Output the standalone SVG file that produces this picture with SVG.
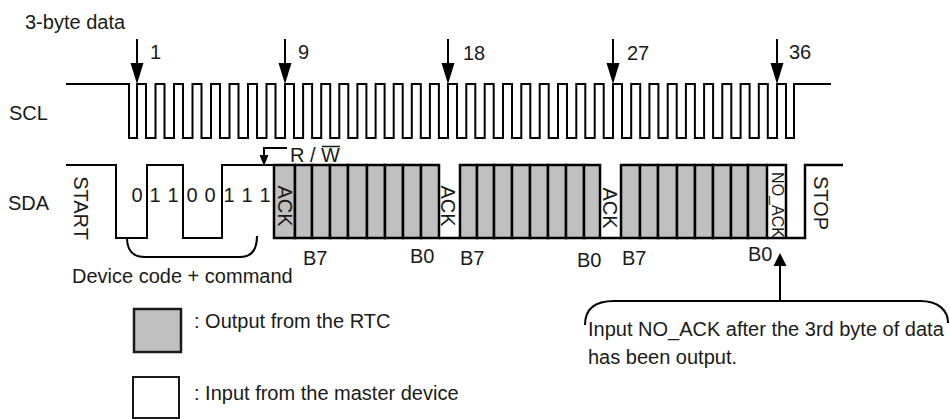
<svg xmlns="http://www.w3.org/2000/svg" width="950" height="419" viewBox="0 0 950 419">
<style>
text{font-family:"Liberation Sans",Arial,sans-serif;font-size:20px;fill:#1a1a1a}
.w{fill:none;stroke:#000;stroke-width:2;stroke-linejoin:miter}
.c{fill:#c0c0c0;stroke:#000;stroke-width:2.5}
.ln{fill:none;stroke:#000;stroke-width:2}
.ah{fill:#000}
.m{text-anchor:middle}
</style>
<rect width="950" height="419" fill="#fff"/>
<g id="labels">
<text x="25" y="29">3-byte data</text>
<text x="9" y="120">SCL</text>
<text x="8" y="210">SDA</text>
<text x="150" y="59">1</text>
<text x="298" y="59">9</text>
<text x="463" y="60">18</text>
<text x="627" y="60">27</text>
<text x="789" y="59">36</text>
</g>
<g id="scl">
<path class="w" d="M66 84 H129 V138 H137 V84 H146 V138 H155.5 V84 H164.5 V138 H174 V84 H183 V138 H192.5 V84 H201.5 V138 H211 V84 H220 V138 H229.5 V84 H238.5 V138 H248 V84 H257 V138 H266.5 V84 H275.5 V138 H285 V84 H294 V138 H303.1 V84 H312.1 V138 H321.2 V84 H330.2 V138 H339.3 V84 H348.3 V138 H357.4 V84 H366.4 V138 H375.6 V84 H384.6 V138 H393.7 V84 H402.7 V138 H411.8 V84 H420.8 V138 H429.9 V84 H438.9 V138 H448 V84 H457 V138 H466.3 V84 H475.3 V138 H484.7 V84 H493.7 V138 H503 V84 H512 V138 H521.3 V84 H530.3 V138 H539.7 V84 H548.7 V138 H558 V84 H567 V138 H576.3 V84 H585.3 V138 H594.7 V84 H603.7 V138 H613 V84 H622 V138 H631.2 V84 H640.2 V138 H649.4 V84 H658.4 V138 H667.7 V84 H676.7 V138 H685.9 V84 H694.9 V138 H704.1 V84 H713.1 V138 H722.3 V84 H731.3 V138 H740.6 V84 H749.6 V138 H758.8 V84 H767.8 V138 H777 V84 H786 V138 H794 V84 H831"/>
</g>
<g id="sda">
<path class="w" d="M66 165 H116 V238 H147 V165 H183 V238 H222 V165 H274"/>
<g id="byte1">
<rect class="c" x="274" y="165" width="21" height="73"/>
<rect class="c" x="295" y="165" width="17" height="73"/>
<rect class="c" x="312" y="165" width="18" height="73"/>
<rect class="c" x="330" y="165" width="18" height="73"/>
<rect class="c" x="348" y="165" width="19" height="73"/>
<rect class="c" x="367" y="165" width="18" height="73"/>
<rect class="c" x="385" y="165" width="18" height="73"/>
<rect class="c" x="403" y="165" width="18" height="73"/>
<rect class="c" x="421" y="165" width="18" height="73"/>
</g>
<g id="byte2">
<rect class="c" x="460" y="165" width="17" height="73"/>
<rect class="c" x="477" y="165" width="17" height="73"/>
<rect class="c" x="494" y="165" width="18" height="73"/>
<rect class="c" x="512" y="165" width="18" height="73"/>
<rect class="c" x="530" y="165" width="18" height="73"/>
<rect class="c" x="548" y="165" width="18" height="73"/>
<rect class="c" x="566" y="165" width="18" height="73"/>
<rect class="c" x="584" y="165" width="16" height="73"/>
</g>
<g id="byte3">
<rect class="c" x="621" y="165" width="19" height="73"/>
<rect class="c" x="640" y="165" width="18" height="73"/>
<rect class="c" x="658" y="165" width="19" height="73"/>
<rect class="c" x="677" y="165" width="18" height="73"/>
<rect class="c" x="695" y="165" width="18" height="73"/>
<rect class="c" x="713" y="165" width="18" height="73"/>
<rect class="c" x="731" y="165" width="17" height="73"/>
<rect class="c" x="748" y="165" width="19" height="73"/>
</g>
<path class="w" d="M439 238 H460 M600 238 H621 M767 238 H786 M767 165 H786 V238 H805 V165 H843" style="stroke-width:2.5"/>
<text transform="translate(74,208) rotate(90)" class="m">START</text>
<text transform="translate(278,206) rotate(90)" class="m">ACK</text>
<text transform="translate(441,206) rotate(90)" class="m">ACK</text>
<text transform="translate(603,208) rotate(90)" class="m">ACK</text>
<text transform="translate(772,205) rotate(90)" class="m" style="font-size:16px">NO_ACK</text>
<text transform="translate(814,203) rotate(90)" class="m">STOP</text>
<g class="bits">
<text x="137" y="202" class="m">0</text>
<text x="155" y="202" class="m">1</text>
<text x="173" y="202" class="m">1</text>
<text x="192" y="202" class="m">0</text>
<text x="210" y="202" class="m">0</text>
<text x="229" y="202" class="m">1</text>
<text x="247" y="202" class="m">1</text>
<text x="265" y="202" class="m">1</text>
</g>
<text x="303" y="265">B7</text>
<text x="410" y="263">B0</text>
<text x="460" y="265">B7</text>
<text x="577" y="267">B0</text>
<text x="622" y="265">B7</text>
<text x="748" y="261">B0</text>
<text x="290" y="162">R / W</text>
<line x1="322" y1="146.5" x2="340" y2="146.5" stroke="#1a1a1a" stroke-width="1.5"/>
<text x="72" y="283">Device code + command</text>
</g>
<g id="connectors">
<path class="ln" d="M137 39 V66 M285 39 V66 M448 39 V66 M613 39 V66 M777 39 V66"/>
<polygon class="ah" points="130.5,63 143.5,63 137,84"/>
<polygon class="ah" points="278.5,63 291.5,63 285,84"/>
<polygon class="ah" points="441.5,63 454.5,63 448,84"/>
<polygon class="ah" points="606.5,63 619.5,63 613,84"/>
<polygon class="ah" points="770.5,63 783.5,63 777,84"/>
<path class="ln" d="M287 148 H264 V157"/>
<polygon class="ah" points="259.5,155 268.5,155 264,166"/>
<path class="ln" d="M127 238 Q127 257 145 257 H240 Q257 257 257 236"/>
<path class="ln" d="M780 301 V264"/>
<polygon class="ah" points="773.5,266 786.5,266 780,253"/>
<path class="ln" d="M585 325 C585 309 594 301 614 301 H920 C938 301 948 310 948 323"/>
</g>
<g id="note">
<text x="588" y="336">Input NO_ACK after the 3rd byte of data</text>
<text x="588" y="364">has been output.</text>
</g>
<g id="legend">
<rect x="134" y="309" width="47" height="43" fill="#c0c0c0" stroke="#1a1a1a" stroke-width="2.5"/>
<text x="194" y="328">: Output from the RTC</text>
<rect x="133" y="377" width="46" height="41" fill="#fff" stroke="#1a1a1a" stroke-width="2"/>
<text x="194" y="400">: Input from the master device</text>
</g>
</svg>
